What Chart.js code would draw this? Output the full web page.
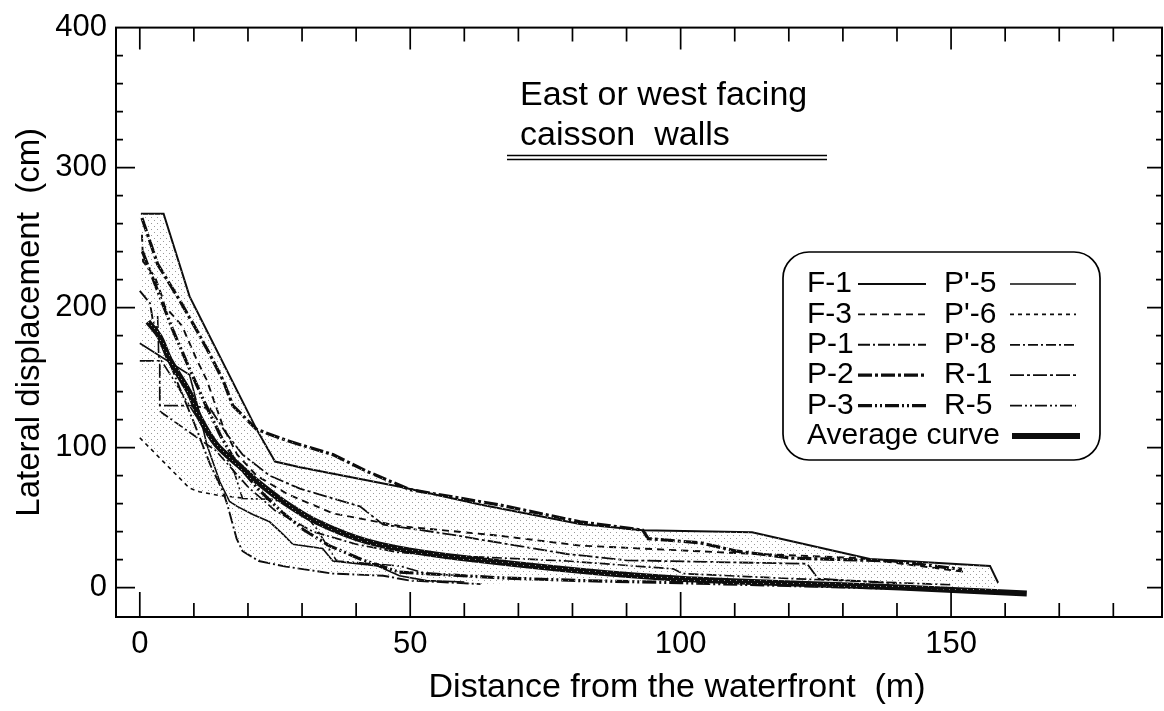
<!DOCTYPE html>
<html>
<head>
<meta charset="utf-8">
<script src="https://cdn.jsdelivr.net/npm/chart.js@4.4.1/dist/chart.umd.min.js"></script>
<style>
  html, body { margin: 0; padding: 0; background: #fff; }
</style>
</head>
<body>
<canvas id="chart" width="1164" height="711"></canvas>
<script>
// axis ticks
const xLabelTicks = [0, 50, 100, 150];
const yLabelTicks = [0, 100, 200, 300, 400];
const xTickMarks = [0, 10, 20, 30, 40, 50, 60, 70, 80, 90, 100, 110, 120, 130, 140, 150, 160, 170, 180];
const yTickMarks = [0, 20, 40, 60, 80, 100, 120, 140, 160, 180, 200, 220, 240, 260, 280, 300, 320, 340, 360, 380];

// series, [distance m, displacement cm]
const f1 = [[0.2,267],[4.4,267],[9.2,208],[21.6,113],[25,90],[29.6,86],[48.1,72],[62.9,59.4],[81.4,45.5],[93,41],[113.2,39.6],[135,20.5],[157.2,15.5],[158.7,3.5]];
const f3 = [[0.4,252],[0.6,233],[2.8,222],[4.1,208],[4.6,201],[7.8,187],[10.5,163],[12.4,148],[15.4,115],[18,95],[21.6,80],[27.2,67],[35.7,53],[48,44],[66.6,37],[81.4,30],[108.6,25],[133,21],[153,11]];
const p1 = [[0,212],[1.9,203],[2.4,191],[3.3,184],[4.6,170],[6.8,148],[10,118],[13,88],[15.4,68.5],[16.2,59],[17.9,35],[19,26],[22,19],[27,15],[35.7,10],[45,8.5],[50,5],[63,2.5]];
const p2 = [[0.4,264],[3.3,231],[7.4,205],[10.5,184],[12.9,167],[15.4,148],[17.2,130],[21.6,113],[27.2,105],[35.7,95],[42,83],[49.9,70],[66.6,59],[81.4,47],[93,41],[94,35],[103.6,32],[110.4,26],[120.8,21],[139.3,19],[152,13]];
const p3 = [[0.5,240],[2,225],[4,205],[6,185],[9,158],[12,132],[15,108],[18,88],[22,70],[26,55],[30,42],[35,30],[41,20],[48,11],[66.6,7],[81.4,5],[100,3.5],[120,1.5],[140,-0.5],[158,-2.5]];
const pp5 = [[0,174.5],[9.2,152],[11,125],[12.4,102],[14.8,75.6],[16.6,61.5],[18,58],[21,52],[24,47],[26.5,38],[28.3,31],[33.8,28],[35.7,19],[44,15.5],[48,8.5],[53,5],[60,4]];
const pp6 = [[0,107],[9.2,71],[11,68.5],[14.4,66],[19,64]];
const pp8 = [[3.7,126],[11,106],[14,98],[17,85],[20,72],[25,55],[32,40],[40,31],[48,25],[62,22],[79,19],[98.6,13.4],[100.4,10],[120,6.5],[140,3.5],[150,2]];
const r1 = [[0,162],[3.7,162],[3.7,130],[9.2,130],[13,128],[16,110],[19,95],[24,80],[29.6,70.7],[40.7,58],[45,45],[57.3,38],[79,24],[90,19.5],[110,18],[123.4,17],[125.4,6.4],[140,3]];
const r5 = [[3.3,194],[3.5,165],[6,150],[10,125],[13,108],[15,100],[17.5,82],[19,63.6],[24.7,63],[30,55],[32.7,42],[36.4,19],[48,15.5],[53,10],[62,8]];
const avg = [[1.5,190],[3.7,179],[5.5,163],[9.2,139],[11,122],[14.2,102],[19,85],[21.6,76],[26.5,61.5],[32.7,47],[42,33],[54,24],[81.4,12],[100,6.4],[122,2.8],[140.6,0],[164,-4.2]];

// shaded band between scatter envelope
const envTop = [[0,267],[4.4,267],[9.2,208],[21.6,113],[27.2,105],[35.7,95],[42,83],[49.9,70],[66.6,59],[81.4,47],[93,41],[113.2,39.6],[135,20.5],[157.2,15.5],[158.7,3.5]];
const envBottom = [[0,107],[9.2,71],[14.4,66],[15.4,64],[16.2,59],[17.9,35],[19,26],[22,19],[27,15],[35.7,10],[45,8.5],[50,5],[63,2.5],[81.4,5],[100,3.5],[120,1.5],[140,-0.5],[158.7,-2.5]];

const FONT = '"Liberation Sans", Arial, Helvetica, sans-serif';
const INK = '#0d0d0d';

const canvas = document.getElementById('chart');
const ctx = canvas.getContext('2d');

// sparse dot pattern for the band
const dots = document.createElement('canvas');
dots.width = 6;
dots.height = 6;
const dctx = dots.getContext('2d');
dctx.fillStyle = '#999';
dctx.fillRect(1, 1, 1, 1);
dctx.fillRect(4, 4, 1, 1);
const stipple = ctx.createPattern(dots, 'repeat');

const toPts = arr => arr.map(([x, y]) => ({ x, y }));

function series(label, pts, width, dash, tension) {
  return {
    label,
    data: toPts(pts),
    showLine: true,
    borderColor: INK,
    borderWidth: width,
    borderDash: dash,
    pointRadius: 0,
    fill: false,
    tension: tension || 0
  };
}

const lines = [
  series('F-1', f1, 2, []),
  series('F-3', f3, 1.9, [7, 5]),
  series('P-1', p1, 1.9, [12, 3, 2, 3]),
  series('P-2', p2, 3.2, [14, 3, 3, 3]),
  series('P-3', p3, 3.2, [14, 3, 2, 3, 2, 3]),
  series("P'-5", pp5, 1.6, []),
  series("P'-6", pp6, 1.6, [4, 4]),
  series("P'-8", pp8, 1.7, [10, 3, 2, 3]),
  series('R-1', r1, 1.8, [14, 3, 3, 3]),
  series('R-5', r5, 1.6, [12, 3, 2, 3, 2, 3]),
  series('Average curve', avg, 6, [], 0.3)
];

// inward ticks and frame
const frameTicks = {
  id: 'frameTicks',
  afterDatasetsDraw(chart) {
    const { ctx, chartArea: a, scales: { x, y } } = chart;
    ctx.save();
    ctx.strokeStyle = '#000';
    ctx.lineWidth = 2;
    ctx.strokeRect(a.left, a.top, a.right - a.left, a.bottom - a.top);
    ctx.lineWidth = 1.7;
    ctx.beginPath();
    xTickMarks.forEach(v => {
      const px = x.getPixelForValue(v);
      const major = xLabelTicks.includes(v);
      ctx.moveTo(px, a.bottom);
      ctx.lineTo(px, a.bottom - (major ? 25 : 14));
      ctx.moveTo(px, a.top);
      ctx.lineTo(px, a.top + (major ? 22 : 14));
    });
    yTickMarks.forEach(v => {
      const py = y.getPixelForValue(v);
      const major = yLabelTicks.includes(v);
      ctx.moveTo(a.left, py);
      ctx.lineTo(a.left + (major ? 19 : 7), py);
      ctx.moveTo(a.right, py);
      ctx.lineTo(a.right - (major ? 15 : 6), py);
    });
    ctx.stroke();
    ctx.restore();
  }
};

// caption, x title and legend box
const legendRows = [['F-1', "P'-5"], ['F-3', "P'-6"], ['P-1', "P'-8"], ['P-2', 'R-1'], ['P-3', 'R-5']];

const notes = {
  id: 'notes',
  afterDraw(chart) {
    const c = chart.ctx;
    const find = name => chart.data.datasets.find(d => d.label === name);
    const sample = (ds, x0, x1, yc) => {
      c.save();
      c.strokeStyle = INK;
      c.lineWidth = ds.borderWidth;
      c.setLineDash(ds.borderDash || []);
      c.beginPath();
      c.moveTo(x0, yc);
      c.lineTo(x1, yc);
      c.stroke();
      c.restore();
    };

    c.save();
    c.fillStyle = '#000';
    c.textBaseline = 'middle';
    c.font = '34px ' + FONT;
    c.fillText('East or west facing', 520, 96);
    c.fillText('caisson  walls', 520, 136);
    c.strokeStyle = '#000';
    c.lineWidth = 1.7;
    c.beginPath();
    c.moveTo(507, 155.5); c.lineTo(827, 155.5);
    c.moveTo(507, 159.5); c.lineTo(827, 159.5);
    c.stroke();

    c.textAlign = 'center';
    c.fillText('Distance from the waterfront  (m)', 677, 688);
    c.textAlign = 'left';

    // legend frame
    c.fillStyle = '#fff';
    c.beginPath();
    c.roundRect(783, 252, 317, 208, 26);
    c.fill();
    c.lineWidth = 1.7;
    c.stroke();

    c.fillStyle = '#000';
    c.font = '30px ' + FONT;
    legendRows.forEach((row, i) => {
      const yc = 284 + i * 30.4;
      c.fillText(row[0], 807, yc);
      sample(find(row[0]), 858, 926, yc);
      c.fillText(row[1], 944, yc);
      sample(find(row[1]), 1010, 1076, yc);
    });
    const ya = 284 + 5 * 30.4;
    c.fillText('Average curve', 807, ya);
    sample(find('Average curve'), 1012, 1080, ya);
    c.restore();
  }
};

new Chart(canvas, {
  type: 'scatter',
  data: {
    datasets: [
      {
        label: 'band top',
        data: toPts(envTop),
        showLine: true,
        borderWidth: 0,
        borderColor: 'transparent',
        pointRadius: 0,
        fill: '+1',
        backgroundColor: stipple
      },
      {
        label: 'band bottom',
        data: toPts(envBottom),
        showLine: true,
        borderWidth: 0,
        borderColor: 'transparent',
        pointRadius: 0,
        fill: false
      },
      ...lines
    ]
  },
  options: {
    responsive: false,
    animation: false,
    layout: { padding: { top: 21, right: 2, left: 0, bottom: 0 } },
    plugins: {
      legend: { display: false },
      tooltip: { enabled: false }
    },
    scales: {
      x: {
        type: 'linear',
        min: -4.4,
        max: 189,
        afterBuildTicks: s => { s.ticks = xLabelTicks.map(v => ({ value: v })); },
        afterFit: s => { s.height = 94; },
        grid: { display: false, drawTicks: false },
        border: { display: false },
        ticks: { color: '#000', font: { family: FONT, size: 31 }, padding: 9, autoSkip: false, maxRotation: 0 },
        title: { display: false, text: 'Distance from the waterfront  (m)' }
      },
      y: {
        type: 'linear',
        min: -21,
        max: 400,
        afterBuildTicks: s => { s.ticks = yLabelTicks.map(v => ({ value: v })); },
        afterFit: s => { s.width = 116; },
        grid: { display: false, drawTicks: false },
        border: { display: false },
        ticks: { color: '#000', font: { family: FONT, size: 31 }, padding: 9, autoSkip: false },
        title: {
          display: true,
          text: 'Lateral displacement  (cm)',
          color: '#000',
          font: { family: FONT, size: 33 },
          padding: { top: 10, bottom: 0 }
        }
      }
    }
  },
  plugins: [frameTicks, notes]
});
</script>
</body>
</html>
